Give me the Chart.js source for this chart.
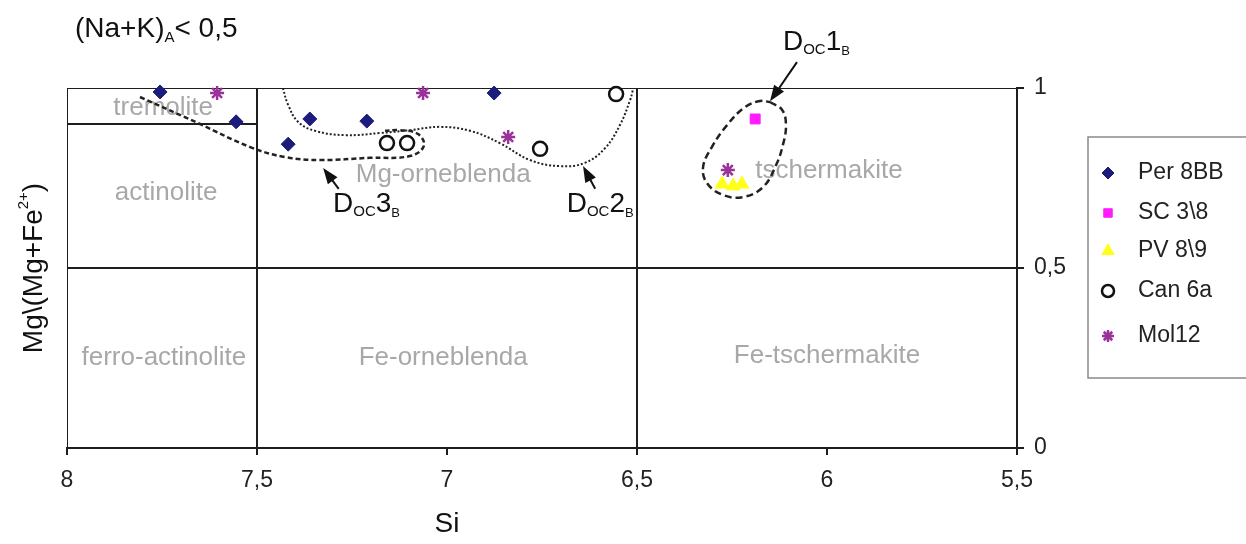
<!DOCTYPE html>
<html>
<head>
<meta charset="utf-8">
<script src="https://cdn.jsdelivr.net/npm/chart.js@4/dist/chart.umd.min.js"></script>
<style>
html, body { margin: 0; padding: 0; background: #fff; }
</style>
</head>
<body>
<canvas id="chart" width="1246" height="544"></canvas>
<script>
// data (Si vs Mg/(Mg+Fe2+))
var per8bbX = [7.755, 7.555, 7.418, 7.361, 7.211, 6.876];
var per8bbY = [0.989, 0.906, 0.844, 0.914, 0.908, 0.986];
var sc38X = [6.189];
var sc38Y = [0.914];
var pv89X = [6.276, 6.247, 6.224];
var pv89Y = [0.733, 0.728, 0.733];
var can6aX = [6.555, 7.158, 7.105, 6.755];
var can6aY = [0.983, 0.847, 0.847, 0.831];
var mol12X = [7.605, 7.063, 6.839, 6.261];
var mol12Y = [0.986, 0.986, 0.864, 0.772];

var xTicks = [8, 7.5, 7, 6.5, 6, 5.5];
var yTicks = [0, 0.5, 1];

// field boundaries
var frameX = [8, 8, 5.5];
var frameY = [0, 1, 1];
var cut75X = [7.5, 7.5];
var cut75Y = [0, 1];
var cut65X = [6.5, 6.5];
var cut65Y = [0, 1];
var halfX = [8, 5.5];
var halfY = [0.5, 0.5];
var tremX = [8, 7.5];
var tremY = [0.9, 0.9];

// envelopes D_OC1..3
var d1X = [6.150, 6.118, 6.108, 6.116, 6.134, 6.168, 6.221, 6.274, 6.316, 6.326, 6.303, 6.263, 6.216, 6.176, 6.150];
var d1Y = [0.961, 0.939, 0.897, 0.842, 0.786, 0.725, 0.697, 0.703, 0.736, 0.781, 0.836, 0.897, 0.947, 0.964, 0.961];
var d2X = [7.432, 7.418, 7.392, 7.347, 7.268, 7.176, 7.097, 7.018, 6.939, 6.861, 6.782, 6.703, 6.637, 6.584, 6.545, 6.518, 6.511];
var d2Y = [1.0, 0.953, 0.906, 0.881, 0.869, 0.875, 0.883, 0.892, 0.881, 0.847, 0.800, 0.783, 0.792, 0.833, 0.897, 0.967, 0.994];
var d3X = [7.808, 7.650, 7.518, 7.426, 7.334, 7.203, 7.097, 7.061, 7.076, 7.124, 7.163];
var d3Y = [0.975, 0.900, 0.836, 0.808, 0.800, 0.806, 0.811, 0.839, 0.872, 0.883, 0.881];

var fields = [
    { text: "tremolite", x: 7.747, y: 0.945 },
    { text: "actinolite", x: 7.739, y: 0.71 },
    { text: "ferro-actinolite", x: 7.745, y: 0.25 },
    { text: "Mg-orneblenda", x: 7.01, y: 0.76 },
    { text: "Fe-orneblenda", x: 7.01, y: 0.25 },
    { text: "tschermakite", x: 5.995, y: 0.77 },
    { text: "Fe-tschermakite", x: 6.0, y: 0.255 }
];

var FONT = "'Liberation Sans', Arial, sans-serif";
var INK = "#1e1e1e";

function pts(xs, ys) {
    return xs.map(function(x, i) { return { x: x, y: ys[i] }; });
}

function frac(v) {
    return String(v).replace(".", ",");
}

function boundary(xs, ys) {
    return {
        data: pts(xs, ys), showLine: true, borderColor: INK, borderWidth: 2,
        pointRadius: 0, fill: false, legend: false
    };
}

function envelope(xs, ys, dash, width) {
    return {
        data: pts(xs, ys), showLine: true, borderColor: "#222", borderWidth: width,
        borderDash: dash, tension: 0.4, pointRadius: 0, fill: false, legend: false
    };
}

// text with sub/superscripts: parts = [[text, size, dy], ...]
function rich(ctx, parts, x, y, align) {
    var w = 0;
    parts.forEach(function(p) {
        ctx.font = p[1] + "px " + FONT;
        w += ctx.measureText(p[0]).width;
    });
    var cx = align === "center" ? x - w / 2 : x;
    ctx.textAlign = "left";
    ctx.textBaseline = "alphabetic";
    parts.forEach(function(p) {
        ctx.font = p[1] + "px " + FONT;
        ctx.fillText(p[0], cx, y + (p[2] || 0));
        cx += ctx.measureText(p[0]).width;
    });
}

function arrow(ctx, x1, y1, x2, y2) {
    var a = Math.atan2(y2 - y1, x2 - x1);
    ctx.strokeStyle = "#111";
    ctx.fillStyle = "#111";
    ctx.lineWidth = 2;
    ctx.beginPath();
    ctx.moveTo(x1, y1);
    ctx.lineTo(x2 - 8 * Math.cos(a), y2 - 8 * Math.sin(a));
    ctx.stroke();
    ctx.beginPath();
    ctx.moveTo(x2, y2);
    ctx.lineTo(x2 - 16 * Math.cos(a) + 6 * Math.sin(a), y2 - 16 * Math.sin(a) - 6 * Math.cos(a));
    ctx.lineTo(x2 - 16 * Math.cos(a) - 6 * Math.sin(a), y2 - 16 * Math.sin(a) + 6 * Math.cos(a));
    ctx.closePath();
    ctx.fill();
}

var labelsPlugin = {
    id: "labels",
    beforeDatasetsDraw: function(chart) {
        var ctx = chart.ctx, xs = chart.scales.x, ys = chart.scales.y;
        ctx.save();
        ctx.fillStyle = "#a8a8a8";
        ctx.font = "26px " + FONT;
        ctx.textAlign = "center";
        ctx.textBaseline = "middle";
        fields.forEach(function(f) {
            ctx.fillText(f.text, xs.getPixelForValue(f.x), ys.getPixelForValue(f.y));
        });
        ctx.restore();
    },
    afterDatasetsDraw: function(chart) {
        var ctx = chart.ctx, xs = chart.scales.x, ys = chart.scales.y;
        var px = function(v) { return xs.getPixelForValue(v); };
        var py = function(v) { return ys.getPixelForValue(v); };
        ctx.save();

        arrow(ctx, px(6.079), py(1.072), px(6.150), py(0.963));
        arrow(ctx, px(6.61), py(0.72), px(6.642), py(0.783));
        arrow(ctx, px(7.285), py(0.72), px(7.326), py(0.778));

        ctx.fillStyle = "#111";
        rich(ctx, [["D", 28], ["OC", 15, 4], ["1", 28], ["B", 13, 5]], px(6.116), py(1.105), "left");
        rich(ctx, [["D", 28], ["OC", 15, 4], ["2", 28], ["B", 13, 5]], px(6.685), py(0.655), "left");
        rich(ctx, [["D", 28], ["OC", 15, 4], ["3", 28], ["B", 13, 5]], px(7.30), py(0.655), "left");

        // title
        rich(ctx, [["(Na+K)", 28], ["A", 15, 5], ["< 0,5", 28]], 75, 37, "left");

        // axis titles
        ctx.font = "28px " + FONT;
        ctx.textAlign = "center";
        ctx.textBaseline = "middle";
        ctx.fillText("Si", px(7.0), 524);
        ctx.save();
        ctx.translate(32, 268);
        ctx.rotate(-Math.PI / 2);
        rich(ctx, [["Mg\\(Mg+Fe", 28], ["2+", 15, -14], [")", 28]], 0, 10, "center");
        ctx.restore();

        ctx.restore();
    },
    afterDraw: function(chart) {
        // legend box
        var ctx = chart.ctx;
        ctx.save();
        ctx.strokeStyle = "#8a8a8a";
        ctx.lineWidth = 1.5;
        ctx.strokeRect(1088, 137, 170, 241);
        var rows = [173, 213, 251, 291, 336];
        var k = 0;
        chart.data.datasets.forEach(function(ds) {
            if (ds.legend === false) return;
            var y = rows[k++];
            ctx.fillStyle = ds.backgroundColor;
            ctx.strokeStyle = ds.borderColor;
            ctx.lineWidth = ds.borderWidth;
            Chart.helpers.drawPoint(ctx, {
                pointStyle: ds.pointStyle, radius: ds.pointRadius - 1, rotation: 0,
                borderWidth: ds.borderWidth
            }, 1108, y);
            ctx.fillStyle = "#222";
            ctx.font = "23px " + FONT;
            ctx.textAlign = "left";
            ctx.textBaseline = "middle";
            ctx.fillText(ds.label, 1138, y);
        });
        ctx.restore();
    }
};

var ctx = document.getElementById("chart").getContext("2d");
var chart = new Chart(ctx, {
    type: "scatter",
    data: {
        datasets: [
            { label: "Per 8BB", data: pts(per8bbX, per8bbY), pointStyle: "rectRot", pointRadius: 7,
              backgroundColor: "#1c1c7c", borderColor: "#1c1c7c", borderWidth: 1, clip: false },
            { label: "SC 3\\8", data: pts(sc38X, sc38Y), pointStyle: "rect", pointRadius: 7,
              backgroundColor: "#ff1aff", borderColor: "#ff1aff", borderWidth: 1, clip: false },
            { label: "PV 8\\9", data: pts(pv89X, pv89Y), pointStyle: "triangle", pointRadius: 8,
              backgroundColor: "#ffff1a", borderColor: "#ffff1a", borderWidth: 1, clip: false },
            { label: "Can 6a", data: pts(can6aX, can6aY), pointStyle: "circle", pointRadius: 7,
              backgroundColor: "#fff", borderColor: "#111", borderWidth: 2.5, clip: false },
            { label: "Mol12", data: pts(mol12X, mol12Y), pointStyle: "star", pointRadius: 7,
              backgroundColor: "#993399", borderColor: "#993399", borderWidth: 2.5, clip: false },
            boundary(frameX, frameY),
            boundary(cut75X, cut75Y),
            boundary(cut65X, cut65Y),
            boundary(halfX, halfY),
            boundary(tremX, tremY),
            envelope(d1X, d1Y, [7, 4], 2.5),
            envelope(d2X, d2Y, [2, 2], 2),
            envelope(d3X, d3Y, [5, 3], 2.5)
        ]
    },
    options: {
        responsive: false,
        animation: false,
        devicePixelRatio: 1,
        layout: { padding: { left: 67, top: 88, right: 169, bottom: 0 } },
        plugins: { legend: { display: false }, tooltip: { enabled: false } },
        scales: {
            x: {
                type: "linear", reverse: true, min: 5.5, max: 8,
                afterFit: function(s) { s.height = 96; },
                afterBuildTicks: function(s) { s.ticks = xTicks.map(function(v) { return { value: v }; }); },
                ticks: { callback: frac, color: "#222", padding: 12, font: { size: 23, family: FONT } },
                grid: { drawOnChartArea: false, drawTicks: true, tickLength: 7, color: INK, lineWidth: 2 },
                border: { display: true, color: INK, width: 2 }
            },
            y: {
                position: "right", min: 0, max: 1,
                afterFit: function(s) { s.width = 60; },
                afterBuildTicks: function(s) { s.ticks = yTicks.map(function(v) { return { value: v }; }); },
                ticks: { callback: frac, color: "#222", padding: 10, font: { size: 23, family: FONT } },
                grid: { drawOnChartArea: false, drawTicks: true, tickLength: 7, color: INK, lineWidth: 2 },
                border: { display: true, color: INK, width: 2 }
            }
        }
    },
    plugins: [labelsPlugin]
});
</script>
</body>
</html>
